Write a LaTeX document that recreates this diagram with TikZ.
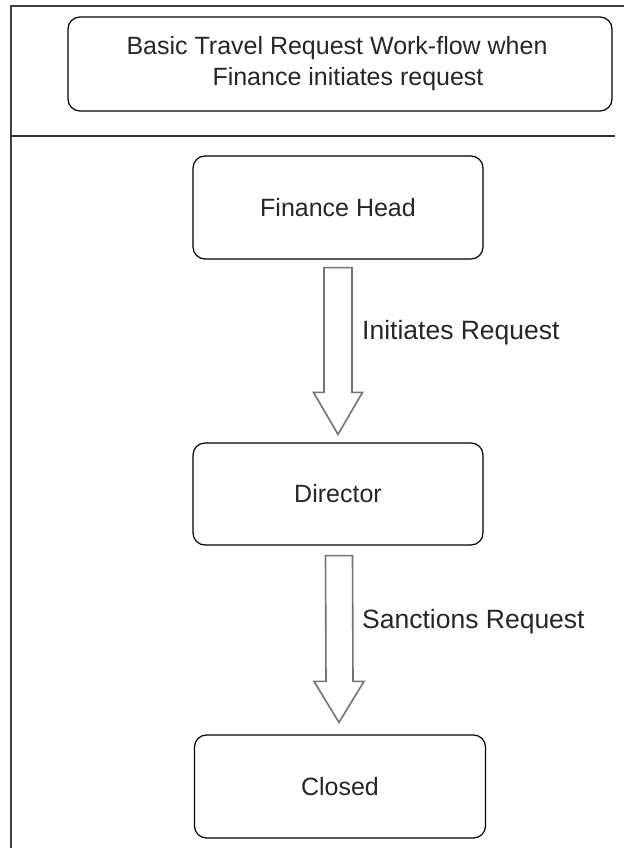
\documentclass[tikz,border=0pt]{standalone}
\usepackage{fontspec}
\setmainfont{Liberation Sans}
\usetikzlibrary{calc}
\begin{document}
\begin{tikzpicture}[x=1pt,y=-1pt,
  box/.style={draw=black, line width=1.2pt, rounded corners=12pt, inner sep=0pt, align=center,
    font=\fontsize{25}{31}\selectfont, text=black!85},
  blockarrow/.style={draw=black!55, line width=1.6pt, fill=white, line join=miter},
  lab/.style={anchor=west, inner sep=0pt, font=\fontsize{26.5}{30}\selectfont, text=black!85},
  framestyle/.style={draw=black!75, line width=2pt},
  seperator/.style={draw=black!80, line width=1.4pt}]
\useasboundingbox (0,0) rectangle (624,848);
% frame
\coordinate (ftl) at (11,6);
\coordinate (ftr) at (624,6);
\coordinate (fbl) at (11,848);
\draw[framestyle] (ftr) -- (ftl) -- (fbl);
\coordinate (sl) at (11,136);
\coordinate (sr) at (615,136);
\draw[seperator] (sl) -- (sr);
% title
\node[box, minimum width=544pt, minimum height=94pt] (title) at (340,64)
  {\hspace*{-6pt}Basic Travel Request Work-flow when\\\hspace*{16pt}Finance initiates request};
% boxes
\node[box, minimum width=290pt, minimum height=103pt] (fh) at (338,207.5) {Finance Head};
\node[box, minimum width=290pt, minimum height=102pt] (dir) at (338,494) {Director};
\node[box, minimum width=291pt, minimum height=103pt] (cl) at (340,786.5) {Closed};
% arrow 1
\draw[blockarrow] ($(fh.south)+(-14,8)$) -- ($(fh.south)+(14,8)$) -- ($(dir.north)+(14,-50)$)
  -- ($(dir.north)+(24.5,-50)$) -- ($(dir.north)+(0,-8)$) -- ($(dir.north)+(-24.5,-50)$)
  -- ($(dir.north)+(-14,-50)$) -- cycle;
% arrow 2
\draw[blockarrow] ($(dir.south)+(-12.5,10)$) -- ($(dir.south)+(14.5,10)$) -- ($(cl.north)+(13,-53)$)
  -- ($(cl.north)+(24,-53)$) -- ($(cl.north)+(-1,-12)$) -- ($(cl.north)+(-26,-53)$)
  -- ($(cl.north)+(-14,-53)$) -- cycle;
% labels
\node[lab] (l1) at (362,333) {Initiates Request};
\node[lab] (l2) at (362,622) {Sanctions Request};
\end{tikzpicture}
\end{document}
